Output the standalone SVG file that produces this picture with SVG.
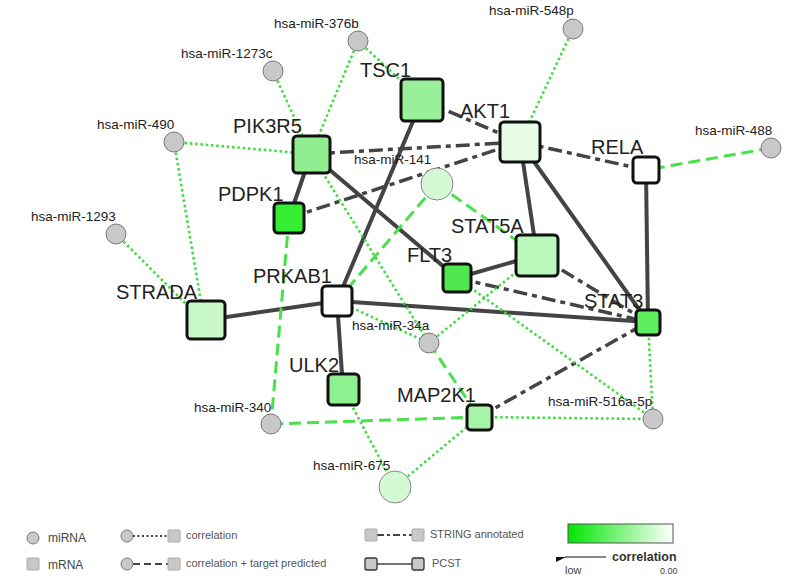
<svg xmlns="http://www.w3.org/2000/svg" width="794" height="585" viewBox="0 0 794 585">
<defs>
<linearGradient id="grad" x1="0" y1="0" x2="1" y2="0">
<stop offset="0" stop-color="#00e600"/>
<stop offset="1" stop-color="#ffffff"/>
</linearGradient>
<marker id="arr" markerWidth="10" markerHeight="8" refX="1" refY="6" orient="auto" markerUnits="userSpaceOnUse">
<path d="M0,6 L10,1 L10,6 Z" fill="#111"/>
</marker>
</defs>
<style>
text{font-family:"Liberation Sans",Arial,sans-serif;fill:#222}
.gl{font-size:20px}
.ml{font-size:13.5px}
.pcst{stroke:#444;stroke-width:4;fill:none;stroke-linecap:round}
.str{stroke:#444;stroke-width:3.5;fill:none;stroke-dasharray:14 5 5 5}
.cor{stroke:#40dd40;stroke-width:2.6;fill:none;stroke-dasharray:2.5 2.8}
.ctp{stroke:#4ae04a;stroke-width:3;fill:none;stroke-dasharray:12 6}
.g rect{stroke:#111;stroke-width:3;rx:4}
.mi{fill:#c8c8c8;stroke:#777;stroke-width:1}
.mig{fill:#d4f9d4;stroke:#888;stroke-width:1}
.lg{font-size:11px;fill:#555}
.lsq{fill:#c8c8c8;stroke:#aaa;stroke-width:1}
</style>
<g id="edges">
<!-- PCST -->
<line class="pcst" x1="311" y1="154" x2="289" y2="218"/>
<line class="pcst" x1="311" y1="154" x2="457" y2="278"/>
<line class="pcst" x1="422" y1="100" x2="337" y2="301"/>
<line class="pcst" x1="520" y1="142" x2="537" y2="255"/>
<line class="pcst" x1="520" y1="142" x2="648" y2="322"/>
<line class="pcst" x1="646" y1="170" x2="648" y2="322"/>
<line class="pcst" x1="457" y1="278" x2="537" y2="255"/>
<line class="pcst" x1="206" y1="320" x2="337" y2="301"/>
<line class="pcst" x1="337" y1="301" x2="648" y2="322"/>
<line class="pcst" x1="337" y1="301" x2="343" y2="389"/>
<!-- STRING -->
<line class="str" x1="422" y1="100" x2="520" y2="142"/>
<line class="str" x1="311" y1="154" x2="520" y2="142"/>
<line class="str" x1="289" y1="218" x2="520" y2="142"/>
<line class="str" x1="520" y1="142" x2="646" y2="170"/>
<line class="str" x1="537" y1="255" x2="648" y2="322"/>
<line class="str" x1="457" y1="278" x2="648" y2="322"/>
<line class="str" x1="479" y1="417" x2="648" y2="322"/>
<!-- correlation -->
<line class="cor" x1="358" y1="41" x2="311" y2="154"/>
<line class="cor" x1="358" y1="41" x2="422" y2="100"/>
<line class="cor" x1="273" y1="71" x2="311" y2="154"/>
<line class="cor" x1="174" y1="142" x2="311" y2="154"/>
<line class="cor" x1="174" y1="142" x2="204" y2="320"/>
<line class="cor" x1="116" y1="234" x2="200" y2="318"/>
<line class="cor" x1="573" y1="29" x2="520" y2="142"/>
<line class="cor" x1="311" y1="154" x2="429" y2="343"/>
<line class="cor" x1="337" y1="301" x2="429" y2="343"/>
<line class="cor" x1="429" y1="343" x2="537" y2="255"/>
<line class="cor" x1="479" y1="417" x2="653" y2="419"/>
<line class="cor" x1="479" y1="417" x2="395" y2="487"/>
<line class="cor" x1="343" y1="389" x2="395" y2="487"/>
<line class="cor" x1="457" y1="278" x2="653" y2="419"/>
<line class="cor" x1="648" y1="322" x2="653" y2="419"/>
<!-- correlation + target predicted -->
<line class="ctp" x1="771" y1="148" x2="646" y2="170"/>
<line class="ctp" x1="437" y1="184" x2="337" y2="301"/>
<line class="ctp" x1="437" y1="184" x2="537" y2="255"/>
<line class="ctp" x1="429" y1="343" x2="479" y2="417"/>
<line class="ctp" x1="289" y1="218" x2="271" y2="424"/>
<line class="ctp" x1="271" y1="424" x2="479" y2="417"/>
</g>
<g id="miR-376b"><circle class="mi" cx="358" cy="41" r="10"/><text class="ml" x="274" y="28">hsa-miR-376b</text></g>
<g id="miR-1273c"><circle class="mi" cx="273" cy="71" r="10"/><text class="ml" x="181" y="58">hsa-miR-1273c</text></g>
<g id="miR-490"><circle class="mi" cx="174" cy="142" r="10"/><text class="ml" x="97" y="129">hsa-miR-490</text></g>
<g id="miR-548p"><circle class="mi" cx="573" cy="29" r="10"/><text class="ml" x="489" y="15">hsa-miR-548p</text></g>
<g id="miR-488"><circle class="mi" cx="771" cy="148" r="10"/><text class="ml" x="695" y="135">hsa-miR-488</text></g>
<g id="miR-141"><circle class="mig" cx="437" cy="184" r="16"/><text class="ml" x="354" y="164">hsa-miR-141</text></g>
<g id="miR-1293"><circle class="mi" cx="116" cy="234" r="10"/><text class="ml" x="31" y="221">hsa-miR-1293</text></g>
<g id="miR-34a"><circle class="mi" cx="429" cy="343" r="10"/><text class="ml" x="352" y="330">hsa-miR-34a</text></g>
<g id="miR-340"><circle class="mi" cx="271" cy="424" r="10"/><text class="ml" x="194" y="412">hsa-miR-340</text></g>
<g id="miR-675"><circle class="mig" cx="395" cy="487" r="16"/><text class="ml" x="313" y="470">hsa-miR-675</text></g>
<g id="miR-516a-5p"><circle class="mi" cx="653" cy="419" r="10"/><text class="ml" x="548" y="406">hsa-miR-516a-5p</text></g>
<g id="TSC1" class="g"><rect x="401" y="79" width="42" height="42" fill="#98f198"/><text class="gl" x="360" y="77">TSC1</text></g>
<g id="AKT1" class="g"><rect x="500" y="122" width="40" height="40" fill="#e6fce6"/><text class="gl" x="460" y="118">AKT1</text></g>
<g id="RELA" class="g"><rect x="633" y="157" width="26" height="26" fill="#ffffff"/><text class="gl" x="591" y="154">RELA</text></g>
<g id="PIK3R5" class="g"><rect x="293" y="136" width="37" height="37" fill="#90ee90"/><text class="gl" x="233" y="133">PIK3R5</text></g>
<g id="PDPK1" class="g"><rect x="274" y="203" width="30" height="30" fill="#33ee33"/><text class="gl" x="218" y="201">PDPK1</text></g>
<g id="STRADA" class="g"><rect x="187" y="301" width="38" height="38" fill="#c8f8c8"/><text class="gl" x="116" y="299">STRADA</text></g>
<g id="PRKAB1" class="g"><rect x="322" y="286" width="30" height="30" fill="#ffffff"/><text class="gl" x="253" y="283">PRKAB1</text></g>
<g id="ULK2" class="g"><rect x="328" y="374" width="31" height="31" fill="#8ef08e"/><text class="gl" x="289" y="372">ULK2</text></g>
<g id="MAP2K1" class="g"><rect x="467" y="405" width="25" height="25" fill="#a6f4a6"/><text class="gl" x="397" y="402">MAP2K1</text></g>
<g id="FLT3" class="g"><rect x="443" y="264" width="28" height="28" fill="#4ee84e"/><text class="gl" x="407" y="262">FLT3</text></g>
<g id="STAT5A" class="g"><rect x="516" y="235" width="42" height="41" fill="#baf8ba"/><text class="gl" x="451" y="233">STAT5A</text></g>
<g id="STAT3" class="g"><rect x="636" y="310" width="24" height="25" fill="#5def5d"/><text class="gl" x="584" y="308">STAT3</text></g>
<g id="legend">
<circle cx="33" cy="538" r="6" class="mi"/><text x="48" y="542" style="font-size:12px;fill:#444">miRNA</text>
<rect x="27" y="558" width="12" height="12" rx="1" class="lsq"/><text x="48" y="569" style="font-size:12px;fill:#444">mRNA</text>
<line x1="133" y1="536" x2="168" y2="536" stroke="#444" stroke-width="2" stroke-dasharray="2 2.5"/>
<circle cx="127" cy="536" r="6" class="mi"/><rect x="168" y="530" width="12" height="12" rx="1" class="lsq"/>
<text class="lg" x="186" y="539">correlation</text>
<line x1="133" y1="564" x2="168" y2="564" stroke="#444" stroke-width="2" stroke-dasharray="7 4"/>
<circle cx="127" cy="564" r="6" class="mi"/><rect x="168" y="558" width="12" height="12" rx="1" class="lsq"/>
<text class="lg" x="186" y="567">correlation + target predicted</text>
<line x1="377" y1="535" x2="412" y2="535" stroke="#444" stroke-width="2" stroke-dasharray="7 3 3 3"/>
<rect x="365" y="529" width="12" height="12" rx="1" class="lsq"/><rect x="412" y="529" width="12" height="12" rx="1" class="lsq"/>
<text class="lg" x="430" y="538">STRING annotated</text>
<line x1="377" y1="564" x2="412" y2="564" stroke="#444" stroke-width="1.5"/>
<rect x="365" y="558" width="12" height="12" rx="2" fill="#c8c8c8" stroke="#333" stroke-width="1.3"/><rect x="412" y="558" width="12" height="12" rx="2" fill="#c8c8c8" stroke="#333" stroke-width="1.3"/>
<text class="lg" x="432" y="567">PCST</text>
<rect x="568" y="524" width="105" height="19" fill="url(#grad)" stroke="#555" stroke-width="1"/>
<line x1="606" y1="557" x2="565" y2="557" stroke="#111" stroke-width="1.2" marker-end="url(#arr)"/>
<text x="612" y="561" style="font-size:12.5px;font-weight:bold;fill:#333">correlation</text>
<text x="565" y="574" style="font-size:11px;fill:#444">low</text>
<text x="660" y="574" style="font-size:9px;fill:#444">0.00</text>
</g>
</svg>
